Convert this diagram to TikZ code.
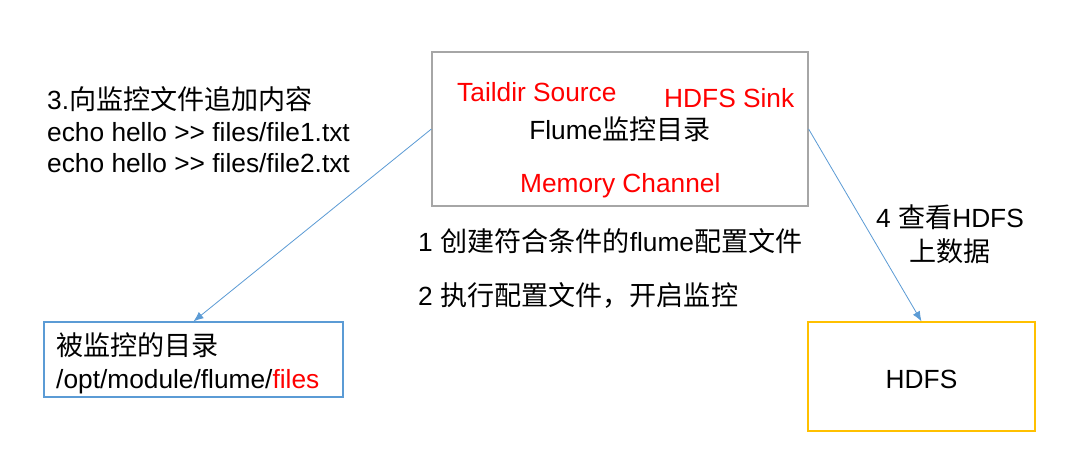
\documentclass[tikz,border=0pt]{standalone}
\usepackage{fontspec}
\setmainfont{Liberation Sans}[Ligatures=TeXOff]
\newfontfamily\cjkfont{Noto Sans CJK SC}[Scale=1.03]
\newcommand\zhs[1]{{\cjkfont #1}}
\usetikzlibrary{arrows.meta}
\definecolor{boxgray}{HTML}{A6A6A6}
\definecolor{boxblue}{HTML}{5B9BD5}
\definecolor{boxgold}{HTML}{FFC000}
\definecolor{txtred}{HTML}{FF0000}
\tikzset{
  txt/.style={inner sep=0pt, anchor=base west, font=\fontsize{26.3}{32}\selectfont},
  ctxt/.style={inner sep=0pt, anchor=base, font=\fontsize{26.3}{32}\selectfont},
  redtxt/.style={txt, text=txtred},
  boxbase/.style={draw, line width=1.2pt, inner sep=0pt},
  conn/.style={draw=boxblue, line width=0.8pt, -{Latex[length=10pt,width=8pt]}}
}
\begin{document}
\begin{tikzpicture}[x=1pt,y=-1pt]
\useasboundingbox[fill=white] (0,0) rectangle (1080,472);
% boxes
\node[boxbase, draw=boxgray, minimum width=376pt, minimum height=154pt] (flume) at (620,129) {};
\node[boxbase, draw=boxblue, minimum width=299pt, minimum height=75pt] (files) at (193.5,359.5) {};
\node[boxbase, draw=boxgold, minimum width=227pt, minimum height=109pt] (hdfs) at (921.5,376.5) {};
% flume box texts
\node[redtxt] (src) at (457,101.5) {Taildir Source};
\node[redtxt] (sink) at (664,107.5) {HDFS Sink};
\node[ctxt] (ftitle) at (620,139.5) {Flume\zhs{监控目录}};
\node[redtxt] (chan) at (520,192.5) {Memory Channel};
% left texts
\node[txt] (s3a) at (47,109.5) {3.\zhs{向监控文件追加内容}};
\node[txt] (s3b) at (47,141.5) {echo hello >> files/file1.txt};
\node[txt] (s3c) at (47,172.5) {echo hello >> files/file2.txt};
% middle steps
\node[txt] (s1) at (418,251.5) {1 \zhs{创建符合条件的}flume\zhs{配置文件}};
\node[txt] (s2) at (418,305.5) {2 \zhs{执行配置文件，开启监控}};
% right step
\node[ctxt] (s4a) at (950,227.5) {4 \zhs{查看}HDFS};
\node[ctxt] (s4b) at (950,261.5) {\zhs{上数据}};
% box contents
\node[txt] (fa) at (56,355.5) {\zhs{被监控的目录}};
\node[txt] (fb) at (56,388.5) {/opt/module/flume/\textcolor{txtred}{files}};
\node[ctxt] (hl) at (921.5,388.5) {HDFS};
% connectors
\draw[conn] (flume.west) -- (files.north);
\draw[conn] (flume.east) -- (hdfs.north);
\end{tikzpicture}
\end{document}
